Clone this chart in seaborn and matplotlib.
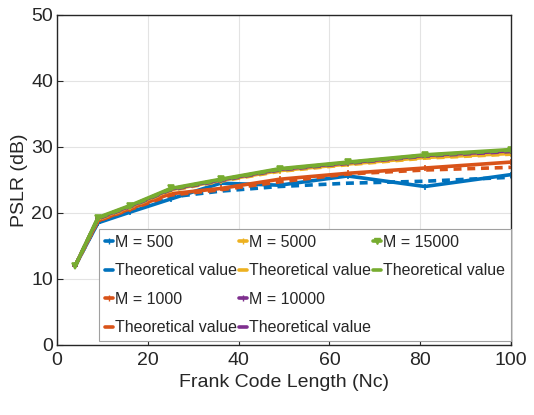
import numpy as np
import pandas as pd
import matplotlib
matplotlib.use("Agg")
import matplotlib.pyplot as plt
from matplotlib.lines import Line2D
import seaborn as sns

# Frank code lengths (Nc)
nc = [4, 9, 16, 25, 36, 49, 64, 81, 100]

# simulated PSLR (dB) per M
m500 = [12.0, 18.5, 20.1, 22.1, 24.5, 24.2, 25.6, 24.0, 25.8]
m1000 = [12.0, 18.8, 20.6, 22.9, 23.7, 25.1, 26.0, 26.8, 27.7]
m5000 = [12.0, 19.1, 20.9, 23.5, 24.9, 26.4, 27.4, 28.4, 29.0]
m10000 = [12.0, 19.2, 21.0, 23.6, 25.0, 26.6, 27.6, 28.7, 29.4]
m15000 = [12.0, 19.3, 21.1, 23.7, 25.1, 26.7, 27.7, 28.8, 29.6]

# theoretical PSLR (dB) per M
t500 = [12.0, 18.6, 20.3, 22.4, 23.3, 24.0, 24.5, 24.8, 25.4]
t1000 = [12.0, 18.8, 20.5, 22.7, 23.5, 24.7, 25.9, 26.5, 26.9]
t5000 = [12.0, 19.0, 20.8, 23.4, 24.8, 26.3, 27.3, 28.3, 28.9]
t10000 = [12.0, 19.1, 20.9, 23.5, 24.9, 26.5, 27.5, 28.6, 29.3]
t15000 = [12.0, 19.2, 21.0, 23.6, 25.0, 26.6, 27.6, 28.7, 29.5]

m_labels = ["M = 500", "M = 1000", "M = 5000", "M = 10000", "M = 15000"]
sim = [m500, m1000, m5000, m10000, m15000]
theo = [t500, t1000, t5000, t10000, t15000]
colors = ["#0072BD", "#D95319", "#EDB120", "#7E2F8E", "#77AC30"]
markers = ["+", "+", "+", "+", "v"]

sns.set_style("ticks")
plt.rcParams["font.family"] = ["Liberation Sans", "DejaVu Sans"]

fig = plt.figure(figsize=(5.34, 4.15), dpi=100)
ax = fig.add_axes([0.107, 0.169, 0.850, 0.795])

handles, labels = [], []
for lab, s, t, c, mk in zip(m_labels, sim, theo, colors, markers):
    df = pd.DataFrame({"Nc": nc, "sim": s, "theo": t})
    sns.lineplot(data=df, x="Nc", y="sim", ax=ax, color=c, linewidth=2.6,
                 marker=mk, markersize=4, markeredgewidth=1.2, markeredgecolor=c)
    sns.lineplot(data=df, x="Nc", y="theo", ax=ax, color=c, linewidth=2.6,
                 linestyle=(0, (2.2, 1.6)))
    handles.append(Line2D([], [], color=c, lw=2.6, marker=mk, markersize=4, markeredgecolor=c))
    labels.append(lab)
    handles.append(Line2D([], [], color=c, lw=2.6))
    labels.append("Theoretical value")

# two blanks so the third column holds only two entries
handles += [Line2D([], [], alpha=0), Line2D([], [], alpha=0)]
labels += ["", ""]

ax.set_xlim(0, 100)
ax.set_ylim(0, 50)
ax.set_xticks(range(0, 101, 20))
ax.set_yticks(range(0, 51, 10))
ax.grid(True, color="#e3e3e3", linewidth=0.8)
ax.set_axisbelow(True)
ax.tick_params(direction="in", length=4, labelsize=14, colors="#262626", pad=3)
ax.tick_params(axis="x", pad=5)
for sp in ax.spines.values():
    sp.set_color("#262626")
    sp.set_linewidth(1.0)

ax.set_xlabel("Frank Code Length (Nc)", fontsize=14, color="#262626")
ax.set_ylabel("PSLR (dB)", fontsize=14, color="#262626", labelpad=2)

leg = ax.legend(handles, labels, ncol=3, loc="lower right",
                bbox_to_anchor=(0.999, 0.012), fontsize=11.5, frameon=True,
                fancybox=False, edgecolor="#a0a0a0", framealpha=1,
                handlelength=0.5, handletextpad=0.15, columnspacing=0.1,
                labelspacing=0.85, borderpad=0.35, borderaxespad=0)
leg.get_frame().set_linewidth(0.8)

fig.savefig("out.png", dpi=100)
